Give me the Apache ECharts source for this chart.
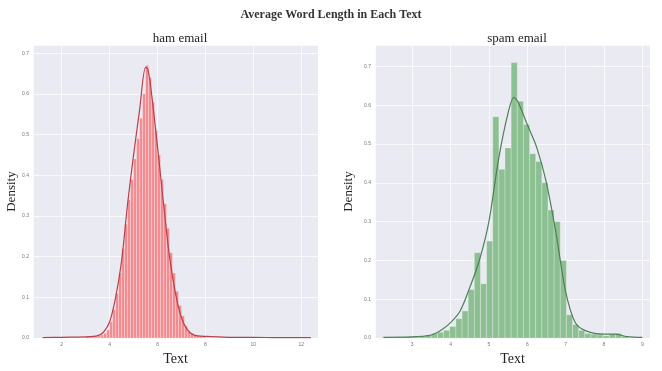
<!DOCTYPE html>
<html>
<head>
<meta charset="utf-8">
<script src="https://cdn.jsdelivr.net/npm/echarts@6/dist/echarts.min.js"></script>
<style>
  html, body { margin: 0; padding: 0; background: #fff; }
  #chart { width: 662px; height: 371px; }
</style>
</head>
<body>
<div id="chart"></div>
<script>
// ham email: histogram bins (left edge, equal width) and density
const hamBinStart = 3.0;
const hamBinWidth = 0.125;
const hamDensity = [
  0.004, 0.004, 0.005, 0.005, 0.006, 0.008, 0.012, 0.02,
  0.04, 0.07, 0.11, 0.16, 0.22, 0.28, 0.34, 0.39,
  0.44, 0.49, 0.54, 0.60, 0.67, 0.64, 0.58, 0.51,
  0.45, 0.39, 0.33, 0.27, 0.21, 0.16, 0.115, 0.08,
  0.055, 0.03, 0.018, 0.012, 0.008, 0.006, 0.005, 0.004
];
const hamKdeX = [1.2, 2.0, 3.0, 3.5, 3.75, 4.0, 4.25, 4.5, 4.75, 5.0, 5.25, 5.5, 5.6, 5.75, 6.0, 6.25, 6.5, 6.75, 7.0, 7.25, 7.5, 8.0, 9.0, 10.0, 11.0, 12.4];
const hamKdeY = [0.001, 0.002, 0.003, 0.006, 0.015, 0.04, 0.10, 0.19, 0.33, 0.45, 0.56, 0.665, 0.66, 0.60, 0.47, 0.33, 0.20, 0.11, 0.05, 0.02, 0.008, 0.004, 0.002, 0.002, 0.001, 0.001];

// spam email
const spamBinStart = 2.22;
const spamBinWidth = 0.16;
const spamDensity = [
  0.002, 0.002, 0.003, 0.003, 0.004, 0.005, 0.006, 0.008,
  0.012, 0.015, 0.02, 0.03, 0.05, 0.07, 0.125, 0.22,
  0.14, 0.25, 0.57, 0.435, 0.49, 0.71, 0.61, 0.55,
  0.475, 0.455, 0.40, 0.33, 0.30, 0.20, 0.06, 0.035,
  0.02, 0.012, 0.01, 0.008, 0.006, 0.01, 0.012, 0.005
];
const spamKdeX = [2.25, 3.0, 3.5, 3.75, 4.0, 4.25, 4.5, 4.75, 5.0, 5.25, 5.5, 5.65, 5.75, 6.0, 6.25, 6.5, 6.75, 7.0, 7.25, 7.5, 8.0, 8.3, 8.6, 9.0];
const spamKdeY = [0.002, 0.003, 0.008, 0.02, 0.04, 0.07, 0.13, 0.20, 0.30, 0.46, 0.58, 0.62, 0.61, 0.55, 0.49, 0.40, 0.27, 0.12, 0.04, 0.02, 0.01, 0.01, 0.004, 0.002];

const serif = '"Liberation Serif", "DejaVu Serif", serif';

function bins(start, width, dens) {
  return dens.map((d, i) => [start + i * width, start + (i + 1) * width, d]);
}
function pairs(xs, ys) {
  return xs.map((x, i) => [x, ys[i]]);
}

function renderBar(params, api) {
  const p0 = api.coord([api.value(0), api.value(2)]);
  const p1 = api.coord([api.value(1), 0]);
  return {
    type: 'rect',
    shape: { x: p0[0], y: p0[1], width: p1[0] - p0[0], height: p1[1] - p0[1] },
    style: api.style({ stroke: 'rgba(255,255,255,0.45)', lineWidth: 0.6 })
  };
}

function xAxis(idx, min, max) {
  return {
    type: 'value', gridIndex: idx, min: min, max: max, splitNumber: 5,
    name: 'Text', nameLocation: 'middle', nameGap: 13,
    nameTextStyle: { fontFamily: serif, fontSize: 14, color: '#222' },
    axisLine: { show: false }, axisTick: { show: false },
    axisLabel: { fontSize: 5, color: '#777', margin: 4, showMinLabel: false, showMaxLabel: false },
    splitLine: { lineStyle: { color: 'rgba(255,255,255,0.75)', width: 1 } }
  };
}
function yAxis(idx, max, gap) {
  return {
    type: 'value', gridIndex: idx, min: 0, max: max, interval: 0.1,
    name: 'Density', nameLocation: 'middle', nameGap: gap, nameRotate: 90,
    nameTextStyle: { fontFamily: serif, fontSize: 13, color: '#222' },
    axisLine: { show: false }, axisTick: { show: false },
    axisLabel: { fontSize: 5, color: '#777', margin: 4, showMaxLabel: false, formatter: v => v.toFixed(1) },
    splitLine: { lineStyle: { color: 'rgba(255,255,255,0.75)', width: 1 } }
  };
}

const chart = echarts.init(document.getElementById('chart'));
chart.setOption({
  animation: false,
  backgroundColor: '#fff',
  title: [
    { text: 'Average Word Length in Each Text', left: 'center', top: 4,
      textStyle: { fontFamily: serif, fontSize: 12, fontWeight: 'bold', color: '#333' } },
    { text: 'ham email', left: 175, top: 27, textAlign: 'center',
      textStyle: { fontFamily: serif, fontSize: 13, fontWeight: 'normal', color: '#222' } },
    { text: 'spam email', left: 512, top: 27, textAlign: 'center',
      textStyle: { fontFamily: serif, fontSize: 13, fontWeight: 'normal', color: '#222' } }
  ],
  grid: [
    { left: 33, right: 344, top: 45, bottom: 21, show: true, backgroundColor: '#eaeaf2', borderWidth: 0 },
    { left: 375, right: 12, top: 45, bottom: 21, show: true, backgroundColor: '#eaeaf2', borderWidth: 0 }
  ],
  xAxis: [xAxis(0, 0.8, 12.7), xAxis(1, 2.03, 9.2)],
  yAxis: [yAxis(0, 0.72, 15), yAxis(1, 0.755, 20)],
  series: [
    { type: 'custom', xAxisIndex: 0, yAxisIndex: 0, renderItem: renderBar,
      itemStyle: { color: '#f28c91' }, encode: { x: [0, 1], y: 2 },
      data: bins(hamBinStart, hamBinWidth, hamDensity) },
    { type: 'line', xAxisIndex: 0, yAxisIndex: 0, showSymbol: false, smooth: 0.3,
      lineStyle: { color: '#b8404c', width: 1.2 }, data: pairs(hamKdeX, hamKdeY) },
    { type: 'custom', xAxisIndex: 1, yAxisIndex: 1, renderItem: renderBar,
      itemStyle: { color: '#8cbf91' }, encode: { x: [0, 1], y: 2 },
      data: bins(spamBinStart, spamBinWidth, spamDensity) },
    { type: 'line', xAxisIndex: 1, yAxisIndex: 1, showSymbol: false, smooth: 0.3,
      lineStyle: { color: '#4f7f57', width: 1.2 }, data: pairs(spamKdeX, spamKdeY) }
  ]
});
</script>
</body>
</html>
